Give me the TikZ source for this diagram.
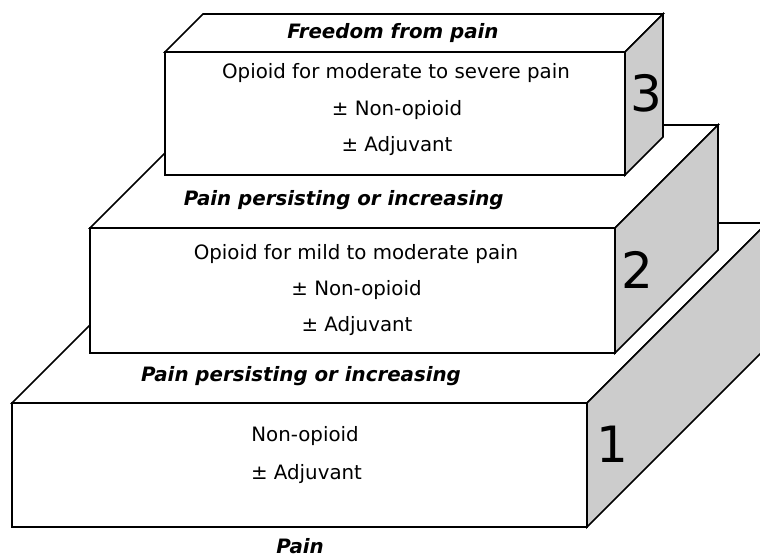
\documentclass[tikz,border=0pt]{standalone}
\usepackage{fontspec}
\setmainfont{DejaVu Sans}[BoldFont={DejaVu Sans Bold},ItalicFont={DejaVu Sans Oblique},BoldItalicFont={DejaVu Sans Bold Oblique}]
\definecolor{sidegray}{RGB}{204,204,204}
\tikzset{
  blockline/.style={draw=black, line width=1.6pt, line join=miter},
  txt/.style={anchor=base, inner sep=0pt, font=\fontsize{19.8}{24}\selectfont},
  lbl/.style={anchor=base, inner sep=0pt, font=\fontsize{19.8}{24}\selectfont\bfseries\itshape},
  num/.style={anchor=base, inner sep=0pt, font=\fontsize{50}{60}\selectfont}
}
% #1,#2 = front top-left; #3,#4 = front bottom-right; #5 = depth
\newcommand{\drawblock}[5]{%
  \draw[blockline, fill=white] (#1,#2) -- (#1+#5,#2-#5) -- (#3+#5,#2-#5) -- (#3,#2) -- cycle;
  \draw[blockline, fill=sidegray] (#3,#2) -- (#3+#5,#2-#5) -- (#3+#5,#4-#5) -- (#3,#4) -- cycle;
  \draw[blockline, fill=white] (#1,#2) rectangle (#3,#4);
}
\begin{document}
\begin{tikzpicture}[x=1pt, y=-1pt]
  \useasboundingbox (0,0) rectangle (760,557);
  \clip (0,0) rectangle (760,557);
  \fill[white] (0,0) rectangle (760,557);
  % step 1
  \drawblock{12}{403}{587}{527}{180}
  % step 2
  \drawblock{90}{228}{615}{353}{103}
  % step 3
  \drawblock{165}{52}{625}{175}{38}

  \node[lbl] (freedom) at (393,38.3) {Freedom from pain};
  \node[txt] (s3a) at (396,78.3) {Opioid for moderate to severe pain};
  \node[txt] (s3b) at (397,115) {± Non-opioid};
  \node[txt] (s3c) at (397,151.7) {± Adjuvant};
  \node[num] (n3) at (646,111.7) {3};

  \node[lbl] (persist2) at (343.7,205.5) {Pain persisting or increasing};
  \node[txt] (s2a) at (356,259.3) {Opioid for mild to moderate pain};
  \node[txt] (s2b) at (356.5,295.5) {± Non-opioid};
  \node[txt] (s2c) at (357,331.7) {± Adjuvant};
  \node[num] (n2) at (637,288.3) {2};

  \node[lbl] (persist1) at (301,381.7) {Pain persisting or increasing};
  \node[txt] (s1a) at (305,441.7) {Non-opioid};
  \node[txt] (s1b) at (306.5,479) {± Adjuvant};
  \node[num] (n1) at (612.5,462.7) {1};

  \node[lbl] (pain) at (300,553.5) {Pain};
\end{tikzpicture}
\end{document}
